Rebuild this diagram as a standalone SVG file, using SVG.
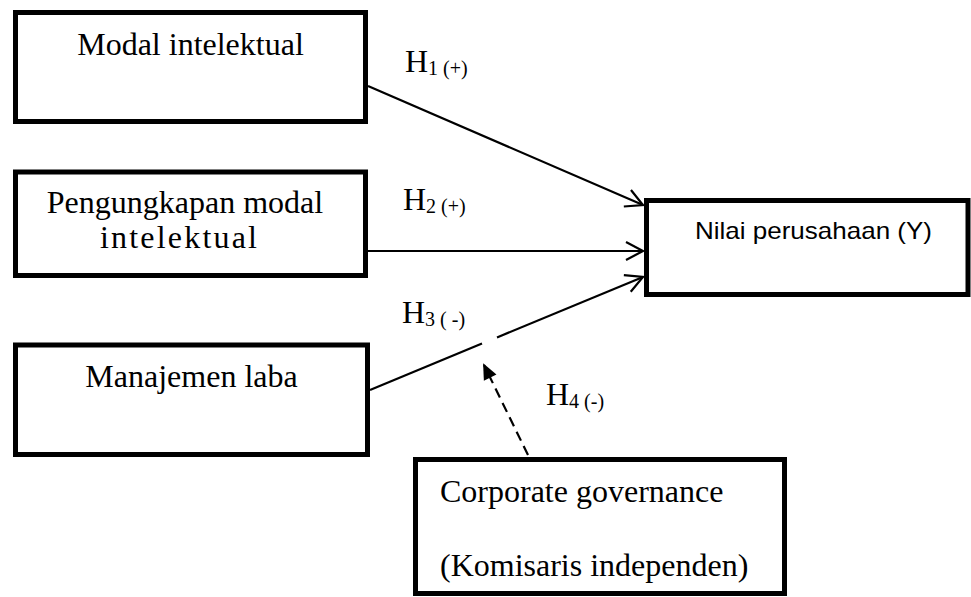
<svg xmlns="http://www.w3.org/2000/svg" width="971" height="597" viewBox="0 0 971 597">
<style>
.box{fill:#fff;stroke:#000;stroke-width:5}
.t{font-family:"Liberation Serif","Times New Roman",serif;font-size:32px;fill:#000}
.s{font-family:"Liberation Sans",Arial,sans-serif;font-size:24px;fill:#000}
.h{font-family:"Liberation Serif","Times New Roman",serif;font-size:32px;fill:#000}
.sub{font-size:20px}
.c{fill:none;stroke:#000;stroke-width:2.2}
</style>
<defs>
<marker id="open" markerUnits="userSpaceOnUse" markerWidth="22" markerHeight="22" refX="17" refY="9" orient="auto" overflow="visible">
<path d="M0,0 L17,9 L0,18" fill="none" stroke="#000" stroke-width="2.2"/>
</marker>
<marker id="fill" markerUnits="userSpaceOnUse" markerWidth="18" markerHeight="16" refX="14" refY="7" orient="auto" overflow="visible">
<path d="M0,0 L16,7 L0,14 Z" fill="#000"/>
</marker>
</defs>
<g id="connectors">
<line class="c" x1="368" y1="86" x2="643" y2="205" marker-end="url(#open)"/>
<line class="c" x1="368" y1="251" x2="643" y2="251" marker-end="url(#open)"/>
<line class="c" x1="370" y1="390" x2="482" y2="343.6"/>
<line class="c" x1="497" y1="337.4" x2="643" y2="277" marker-end="url(#open)"/>
<line class="c" x1="528" y1="455" x2="484" y2="365" stroke-width="2.5" stroke-dasharray="10,6" marker-end="url(#fill)"/>
</g>
<g id="labels">
<text class="h" x="405" y="72">H<tspan class="sub" dy="3">1 (+)</tspan></text>
<text class="h" x="403" y="210">H<tspan class="sub" dy="3">2 (+)</tspan></text>
<text class="h" x="402" y="323">H<tspan class="sub" dy="3">3 ( -)</tspan></text>
<text class="h" x="546" y="405">H<tspan class="sub" dy="3">4 (-)</tspan></text>
</g>
<g id="modal-intelektual">
<rect class="box" x="15.5" y="12.5" width="350" height="109"/>
<text class="t" x="190.5" y="55" text-anchor="middle">Modal intelektual</text>
</g>
<g id="pengungkapan">
<rect class="box" x="15.5" y="172" width="350" height="103.5"/>
<text class="t" x="185" y="213" text-anchor="middle">Pengungkapan modal</text>
<text class="t" x="100" y="248" textLength="157" lengthAdjust="spacing">intelektual</text>
</g>
<g id="manajemen-laba">
<rect class="box" x="15.5" y="345" width="352" height="109.5"/>
<text class="t" x="191.5" y="387" text-anchor="middle">Manajemen laba</text>
</g>
<g id="nilai-perusahaan">
<rect class="box" x="646.5" y="200.5" width="321.5" height="94"/>
<text class="s" x="695" y="239" textLength="237" lengthAdjust="spacingAndGlyphs">Nilai perusahaan (Y)</text>
</g>
<g id="corporate-governance">
<rect class="box" x="415.5" y="459.5" width="369" height="134"/>
<text class="t" x="440" y="502">Corporate governance</text>
<text class="t" x="440" y="576">(Komisaris independen)</text>
</g>
</svg>
